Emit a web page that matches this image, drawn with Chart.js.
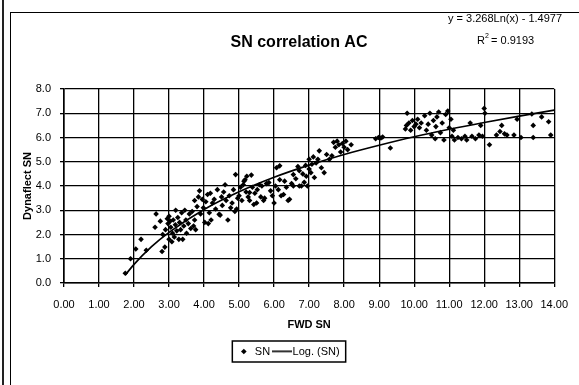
<!DOCTYPE html>
<html>
<head>
<meta charset="utf-8">
<script src="https://cdn.jsdelivr.net/npm/chart.js@4"></script>
<style>
  body { margin: 0; background: #fff; }
  #wrap { position: relative; width: 579px; height: 385px; }
  #frame { position: absolute; left: 10px; top: 12px; right: -2px; bottom: -2px; border-left: 1.5px solid #000; border-top: 1.5px solid #000; pointer-events: none; }
  #edge { position: absolute; left: 2px; top: 0; width: 2px; height: 385px; background: #222; }
</style>
</head>
<body>
<div id="wrap">
  <canvas id="snChart" width="579" height="385"></canvas>
  <div id="frame"></div>
  <div id="edge"></div>
</div>
<script>
// FWD SN (x) vs Dynaflect SN (y)
var fwdSN = [
  1.75, 1.90, 2.05, 2.20, 2.35, 2.60, 2.63, 2.75, 2.80, 2.82, 2.88, 2.90, 2.95, 2.97, 3.00, 3.00,
  3.03, 3.05, 3.08, 3.10, 3.12, 3.15, 3.18, 3.19, 3.22, 3.25, 3.28, 3.30, 3.33, 3.36, 3.39, 3.42,
  3.45, 3.48, 3.50, 3.55, 3.58, 3.62, 3.66, 3.70, 3.73, 3.73, 3.76, 3.80, 3.84, 3.87, 3.90, 3.95, 3.98,
  4.02, 4.05, 4.10, 4.12, 4.15, 4.18, 4.20, 4.24, 4.29, 4.33, 4.38, 4.43, 4.46, 4.50, 4.52, 4.56,
  4.60, 4.63, 4.68, 4.72, 4.76, 4.80, 4.84, 4.88, 4.90, 4.93, 4.96, 5.00,
  5.04, 5.08, 5.12, 5.14, 5.17, 5.20, 5.22, 5.26, 5.30, 5.30, 5.35, 5.38, 5.42, 5.45, 5.50, 5.52,
  5.58, 5.62, 5.65, 5.70, 5.73, 5.78, 5.85, 5.90, 5.95, 6.00,
  6.04, 6.07, 6.12, 6.16, 6.16, 6.20, 6.27, 6.30, 6.35, 6.40, 6.44, 6.50, 6.55, 6.55, 6.62, 6.68,
  6.72, 6.72, 6.78, 6.82, 6.86, 6.90, 6.92, 6.95, 7.00, 7.00,
  7.05, 7.08, 7.12, 7.15, 7.20, 7.25, 7.29, 7.35, 7.43, 7.50, 7.58, 7.65, 7.70, 7.75, 7.80, 7.85,
  7.90, 7.95, 8.00, 8.05, 8.10, 8.20,
  8.90, 8.98, 9.05, 9.10, 9.32, 9.75, 9.78, 9.80, 9.85, 9.90, 9.95, 10.00, 10.05,
  10.10, 10.15, 10.20, 10.30, 10.35, 10.40, 10.45, 10.50, 10.55, 10.60, 10.62, 10.65, 10.70, 10.75,
  10.80, 10.85, 10.90, 10.96, 11.00, 11.05, 11.08, 11.12, 11.15, 11.25, 11.35, 11.45, 11.50,
  11.60, 11.65, 11.75, 11.85, 11.90, 11.95, 12.00, 12.02, 12.15, 12.35, 12.45, 12.50, 12.58, 12.65,
  12.85, 12.94, 13.05, 13.36, 13.40, 13.40, 13.64, 13.84, 13.90
];
var dynaSN = [
  0.40, 1.00, 1.40, 1.80, 1.35, 2.30, 2.85, 2.55, 1.30, 2.00, 1.48, 2.20, 2.65, 2.45, 1.80, 2.75,
  2.55, 2.30, 1.70, 2.05, 2.60, 1.90, 2.40, 3.00, 2.15, 2.70, 1.80, 2.50, 2.20, 2.90, 1.80, 2.35,
  3.00, 2.60, 2.05, 2.45, 2.85, 2.25, 2.95, 2.35, 2.60, 3.40, 2.20, 3.15, 3.55, 3.80, 2.85, 3.45, 3.10,
  2.50, 3.35, 3.65, 2.45, 2.90, 3.70, 2.60, 3.30, 3.45, 3.05, 3.85, 2.83, 2.80, 3.55, 3.20, 3.75,
  4.05, 3.40, 2.60, 3.60, 3.10, 3.30, 3.85, 2.95, 4.47, 3.05, 3.50, 3.60,
  3.95, 3.40, 4.05, 4.20, 4.26, 3.75, 4.40, 3.55, 3.73, 3.40, 4.45, 3.95, 3.24, 3.70, 3.30, 3.85,
  4.05, 3.55, 4.00, 3.40, 3.50, 4.10, 4.14, 3.80, 3.60, 3.30,
  4.00, 4.75, 3.85, 4.26, 4.83, 3.60, 3.65, 4.20, 3.95, 3.40, 3.45, 4.10, 4.47, 4.00, 4.30, 4.80,
  4.63, 4.00, 4.00, 4.50, 4.15, 4.85, 4.40, 4.00, 4.70, 5.10,
  4.55, 4.90, 5.20, 4.35, 4.95, 5.10, 5.45, 4.75, 4.55, 5.30, 5.10, 5.25, 5.80, 5.60, 5.85, 5.70,
  5.40, 5.75, 5.60, 5.85, 5.50, 5.70,
  5.95, 6.00, 5.98, 6.02, 5.57, 6.35, 6.50, 7.00, 6.60, 6.30, 6.70, 6.45, 6.55,
  6.75, 6.40, 6.60, 6.90, 6.30, 6.55, 7.00, 6.10, 6.70, 5.95, 6.45, 6.85, 7.05, 6.20,
  6.60, 5.90, 6.95, 7.09, 6.40, 6.75, 6.05, 6.30, 5.90, 6.00, 5.95, 6.05, 5.90,
  6.60, 6.05, 5.95, 6.10, 6.50, 6.05, 7.20, 7.00, 5.70, 6.10, 6.25, 6.50, 6.15, 6.10,
  6.10, 6.75, 6.00, 6.97, 6.50, 6.00, 6.85, 6.65, 6.10
];

// Log. (SN) trendline as drawn in the picture
var trendX = [1.75, 2, 2.5, 3, 4, 5, 6, 7, 8, 9, 10, 11, 12, 13, 14];
var trendY = [0.33, 0.77, 1.50, 2.09, 3.03, 3.76, 4.36, 4.86, 5.30, 5.68, 6.03, 6.34, 6.62, 6.88, 7.13];

var chartTitle = 'SN correlation AC';
var equationText = 'y = 3.268Ln(x) - 1.4977';
var rSquaredText = '0.9193';

var narrow = "'Liberation Sans Narrow', 'Liberation Sans', Arial, sans-serif";

var snPoints = fwdSN.map(function (x, i) { return { x: x, y: dynaSN[i] }; });
var trendPoints = trendX.map(function (x, i) { return { x: x, y: trendY[i] }; });

// longer line symbol for the trendline legend entry
var lineMark = document.createElement('canvas');
lineMark.width = 20;
lineMark.height = 4;
var lm = lineMark.getContext('2d');
lm.fillStyle = '#000';
lm.fillRect(0, 1, 20, 1.6);

// chart title, equation + R² in the top right corner, and a box round the legend
var extrasPlugin = {
  id: 'extras',
  afterDraw: function (chart) {
    var c = chart.ctx;
    c.save();
    c.fillStyle = '#000';
    c.textBaseline = 'middle';
    c.textAlign = 'center';
    c.font = 'bold 16px ' + narrow;
    c.fillText(chartTitle, 299, 43);

    c.font = '11px ' + narrow;
    c.fillText(equationText, 505, 19);
    c.textAlign = 'left';
    c.fillText('R', 477, 41);
    c.font = '7px ' + narrow;
    c.fillText('2', 485, 36);
    c.font = '11px ' + narrow;
    c.fillText(' = ' + rSquaredText, 488, 41);

    var lg = chart.legend;
    if (lg && lg.legendHitBoxes.length) {
      var first = lg.legendHitBoxes[0];
      var last = lg.legendHitBoxes[lg.legendHitBoxes.length - 1];
      c.strokeStyle = '#000';
      c.lineWidth = 1.5;
      c.strokeRect(first.left - 6, first.top - 5, last.left + last.width - first.left + 12, first.height + 10);
    }
    c.restore();
  }
};

var ctx = document.getElementById('snChart').getContext('2d');
var snChart = new Chart(ctx, {
  type: 'scatter',
  data: {
    datasets: [{
      label: 'SN',
      data: snPoints,
      pointStyle: 'rectRot',
      pointRadius: 2.8,
      backgroundColor: '#000',
      borderColor: '#000',
      borderWidth: 0
    }, {
      label: 'Log. (SN)',
      type: 'line',
      data: trendPoints,
      showLine: true,
      pointRadius: 0,
      pointStyle: lineMark,
      borderColor: '#000',
      backgroundColor: '#000',
      borderWidth: 1.7,
      cubicInterpolationMode: 'monotone',
      fill: false
    }]
  },
  options: {
    responsive: false,
    animation: false,
    layout: { padding: { left: 20, right: 21, top: 89, bottom: 18 } },
    plugins: {
      title: { display: false },
      legend: {
        position: 'bottom',
        labels: {
          usePointStyle: true,
          boxWidth: 18,
          boxHeight: 4,
          padding: 6,
          color: '#000',
          font: { family: narrow, size: 11 }
        }
      },
      tooltip: { enabled: false }
    },
    scales: {
      x: {
        type: 'linear',
        min: 0,
        max: 14,
        ticks: {
          stepSize: 1,
          color: '#000',
          padding: 11,
          font: { family: narrow, size: 11 },
          callback: function (v) { return v.toFixed(2); }
        },
        grid: { color: '#000', lineWidth: 1.3, tickLength: 4 },
        border: { color: '#000', width: 1.6 },
        title: {
          display: true,
          text: 'FWD SN',
          color: '#000',
          font: { family: narrow, size: 11, weight: 'bold' },
          padding: { top: 4, bottom: 8 }
        },
        afterFit: function (scale) { scale.height = 57; }
      },
      y: {
        min: 0,
        max: 8,
        ticks: {
          stepSize: 1,
          color: '#000',
          padding: 9,
          font: { family: narrow, size: 11 },
          callback: function (v) { return v.toFixed(1); }
        },
        grid: { color: '#000', lineWidth: 1.3, tickLength: 4 },
        border: { color: '#000', width: 1.6 },
        title: {
          display: true,
          text: 'Dynaflect SN',
          color: '#000',
          font: { family: narrow, size: 11, weight: 'bold' },
          padding: { top: 1, bottom: 4 }
        },
        afterFit: function (scale) { scale.width = 44; }
      }
    }
  },
  plugins: [extrasPlugin]
});
</script>
</body>
</html>
